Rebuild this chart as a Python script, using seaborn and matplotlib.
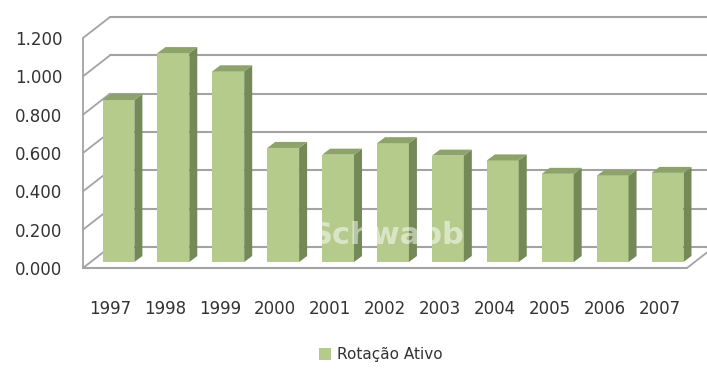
import matplotlib
matplotlib.use("Agg")
import matplotlib.pyplot as plt
import seaborn as sns
import pandas as pd
from matplotlib.patches import Polygon, Patch

years = ["1997", "1998", "1999", "2000", "2001", "2002", "2003", "2004", "2005", "2006", "2007"]
values = [0.845, 1.09, 0.995, 0.595, 0.56, 0.62, 0.555, 0.53, 0.46, 0.45, 0.465]
yticks = [0.0, 0.2, 0.4, 0.6, 0.8, 1.0, 1.2]
series_name = "Rotação Ativo"
watermark = "Schwabb"

front_c = "#b4cb8c"
side_c = "#738957"
top_c = "#8ea26b"
grid_c = "#a3a3a3"
text_c = "#333333"

sns.set_style("white")
plt.rcParams["font.family"] = ["DejaVu Sans"]

W, H = 707, 377
fig = plt.figure(figsize=(W / 100, H / 100), dpi=100)
ax = fig.add_axes([83 / W, (H - 268) / H, (687 - 83) / W, (268 - 38) / H])

df = pd.DataFrame({"Ano": years, "Valor": values})
sns.barplot(data=df, x="Ano", y="Valor", color=front_c, saturation=1,
            width=0.58, ax=ax, edgecolor="none", zorder=3)

ax.set_xlim(-0.5, len(years) - 0.5)
ax.set_ylim(0, 1.2)
sx = (687 - 83) / len(years)        # px per x unit
sy = (268 - 38) / 1.2               # px per y unit

# depth offsets (pixels -> data)
back_dx, back_dy = 27 / sx, 21 / sy
bar_dx, bar_dy = 8 / sx, 6 / sy
side_dx, side_dy = 8 / sx, 6 / sy

# back wall gridlines & left wall diagonals
x0, x1 = ax.get_xlim()
for t in yticks:
    ax.plot([x0 + back_dx, x1 + back_dx], [t + back_dy, t + back_dy],
            color=grid_c, lw=1.5, clip_on=False, zorder=1)
    ax.plot([x0, x0 + back_dx], [t, t + back_dy], color=grid_c, lw=1.3,
            clip_on=False, zorder=1)
ax.plot([x0, x0], [0, 1.2], color=grid_c, lw=1.3, clip_on=False, zorder=1)
ax.plot([x0, x1], [0, 0], color=grid_c, lw=1.5, clip_on=False, zorder=1)
ax.plot([x1, x1 + back_dx], [0, back_dy], color=grid_c, lw=1.3, clip_on=False, zorder=1)

# 3D faces for bars
for p in list(ax.patches):
    px = p.get_x() + bar_dx
    pw = p.get_width()
    ph = p.get_height()
    p.set_x(px)
    p.set_y(bar_dy)
    yb, yt = bar_dy, bar_dy + ph
    xr = px + pw
    side = Polygon([(xr, yb), (xr + side_dx, yb + side_dy), (xr + side_dx, yt + side_dy), (xr, yt)],
                   closed=True, facecolor=side_c, edgecolor="none", zorder=3, clip_on=False)
    top = Polygon([(px, yt), (px + side_dx, yt + side_dy), (xr + side_dx, yt + side_dy), (xr, yt)],
                  closed=True, facecolor=top_c, edgecolor="none", zorder=3, clip_on=False)
    ax.add_patch(side)
    ax.add_patch(top)

ax.set_yticks(yticks)
ax.set_yticklabels([f"{t:.3f}" for t in yticks], color=text_c, fontsize=12)
ax.set_xticks(range(len(years)))
ax.set_xticklabels(years, color=text_c, fontsize=12)
ax.tick_params(axis="y", length=0, pad=15)
ax.tick_params(axis="x", length=0, pad=23)
ax.set_xlabel("")
ax.set_ylabel("")
sns.despine(ax=ax, left=True, bottom=True)
ax.grid(False)

fig.text(388 / W, 1 - 236 / H, watermark, color="white", alpha=0.5, fontsize=22,
         fontweight="semibold", ha="center", va="center", zorder=10)

handles = [Patch(facecolor=front_c, edgecolor="none", label=series_name)]
fig.legend(handles=handles, loc="center", bbox_to_anchor=(381 / W, 1 - 355 / H),
           frameon=False, fontsize=11, handlelength=0.8, handleheight=0.8,
           handletextpad=0.4, labelcolor=text_c)

fig.savefig("out.png", dpi=100)
